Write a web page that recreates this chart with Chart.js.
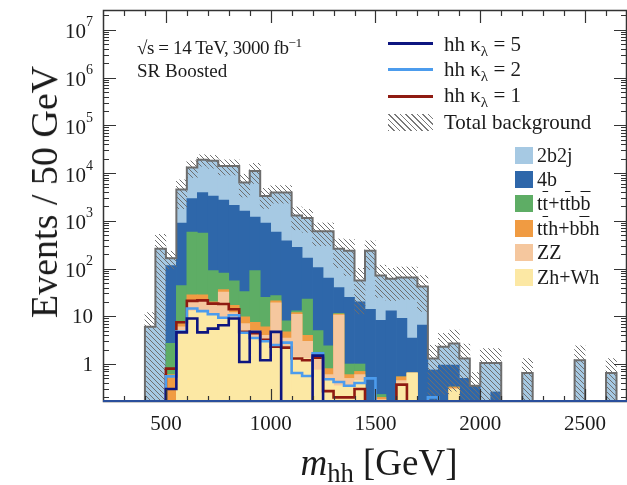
<!DOCTYPE html>
<html>
<head>
<meta charset="utf-8">
<title>m_hh SR Boosted</title>
<script src="https://cdn.jsdelivr.net/npm/chart.js@4.4.1/dist/chart.umd.min.js"></script>
<style>
  html, body { margin: 0; padding: 0; background: #fff; }
  #plot { position: relative; width: 627px; height: 485px; overflow: hidden;
    font-family: "Liberation Serif", "Times New Roman", serif; color: #1b1b1b; }
  #plot canvas { position: absolute; left: 0; top: 0; }
  .txt { position: absolute; white-space: nowrap; line-height: 1; }
  .txt sup { font-size: 0.7em; vertical-align: 0.5em; line-height: 0; }
  .txt sub { font-size: 0.72em; vertical-align: -0.3em; line-height: 0; }
  .ol { text-decoration: overline; text-decoration-thickness: 1px; }
  .sw { position: absolute; }
</style>
</head>
<body>
<div id="plot">
  <canvas id="chart" width="627" height="485"></canvas>

  <!-- annotation -->
  <div class="txt" style="left:137px;top:38px;font-size:19px;letter-spacing:-0.4px">√s = 14 TeV, 3000 fb<sup>−1</sup></div>
  <div class="txt" style="left:137px;top:61px;font-size:19px">SR Boosted</div>

  <!-- legend: signals + total -->
  <div class="sw" style="left:388px;top:42px;width:45px;height:3px;background:#0d1580"></div>
  <div class="sw" style="left:388px;top:68px;width:45px;height:3px;background:#4c9ced"></div>
  <div class="sw" style="left:388px;top:95px;width:45px;height:3px;background:#8f1b12"></div>
  <div class="sw" style="left:388px;top:114px;width:45px;height:17px;background:repeating-linear-gradient(45deg,#7a7a7a 0 1px,transparent 1px 4px)"></div>
  <div class="txt" style="left:444px;top:34px;font-size:21px">hh κ<sub>λ</sub> = 5</div>
  <div class="txt" style="left:444px;top:59px;font-size:21px">hh κ<sub>λ</sub> = 2</div>
  <div class="txt" style="left:444px;top:85px;font-size:21px">hh κ<sub>λ</sub> = 1</div>
  <div class="txt" style="left:444px;top:112px;font-size:21px">Total background</div>

  <!-- legend: stacked backgrounds -->
  <div class="sw" style="left:515px;top:147px;width:18px;height:17px;background:#a6c9e3"></div>
  <div class="sw" style="left:515px;top:171px;width:18px;height:17px;background:#2e67aa"></div>
  <div class="sw" style="left:515px;top:195px;width:18px;height:17px;background:#5ead65"></div>
  <div class="sw" style="left:515px;top:220px;width:18px;height:17px;background:#f09b42"></div>
  <div class="sw" style="left:515px;top:244px;width:18px;height:17px;background:#f5c79e"></div>
  <div class="sw" style="left:515px;top:269px;width:18px;height:17px;background:#fce8a4"></div>
  <div class="txt" style="left:537px;top:145px;font-size:20px">2b2j</div>
  <div class="txt" style="left:537px;top:169px;font-size:20px">4b</div>
  <div class="txt" style="left:537px;top:193px;font-size:20px">t<span class="ol">t</span>+t<span class="ol">t</span>b<span class="ol">b</span></div>
  <div class="txt" style="left:537px;top:218px;font-size:20px">t<span class="ol">t</span>h+b<span class="ol">b</span>h</div>
  <div class="txt" style="left:537px;top:242px;font-size:20px">ZZ</div>
  <div class="txt" style="left:537px;top:267px;font-size:20px">Zh+Wh</div>

  <!-- axis titles -->
  <div class="txt" style="left:44px;top:192px;font-size:38px;transform:translate(-50%,-50%) rotate(-90deg)">Events / 50 GeV</div>
  <div class="txt" style="left:379px;top:462px;font-size:37px;transform:translate(-50%,-50%)"><i>m</i><sub>hh</sub> [GeV]</div>
</div>

<script>
// bin low edges, 50 GeV wide
const binLow = [400, 450, 500, 550, 600, 650, 700, 750, 800, 850,
  900, 950, 1000, 1050, 1100, 1150, 1200, 1250, 1300, 1350,
  1400, 1450, 1500, 1550, 1600, 1650, 1700, 1750, 1800, 1850,
  1900, 1950, 2000, 2050, 2100, 2150, 2200, 2250, 2300, 2350,
  2400, 2450, 2500, 2550, 2600, 2650];
const binWidth = 50;

// backgrounds (events per bin), stacked bottom -> top
const zhWh = [0, 0, 0, 4.5, 13, 12.5, 11, 9, 9.5, 5,
  3.3, 3, 2.4, 2.3, 1.4, 1.3, 0.75, 0.46, 0.35, 0.35,
  0.45, 0, 0, 0, 0.4, 0.65, 0, 0, 0, 0.3,
  0, 0, 0, 0, 0, 0, 0, 0, 0, 0,
  0, 0, 0, 0, 0, 0];
const zz = [0, 0, 0, 1.5, 7, 9.5, 6, 23, 2.5, 2,
  1.7, 1, 16.6, 1.2, 9.6, 1.7, 0.75, 0.14, 10.2, 0.15,
  0.15, 0, 0.18, 0, 0.05, 0, 0, 0, 0, 0,
  0, 0, 0, 0, 0, 0, 0, 0, 0, 0,
  0, 0, 0, 0, 0, 0];
const ttH = [0, 0, 0.6, 1, 8, 6, 3, 4, 5, 2.7,
  2.5, 2, 2, 1.2, 1, 1, 0.2, 0.2, 0.5, 0.1,
  0.1, 0, 0.02, 0, 0.09, 0, 0, 0, 0, 0.03,
  0, 0, 0, 0, 0, 0, 0, 0, 0, 0,
  0, 0, 0, 0, 0, 0];
const ttbar = [0, 0, 2.1, 37, 552, 522, 70, 44, 38, 23,
  83.5, 19, 6, 3.3, 1, 19, 3.3, 1.6, 0.5, 0.4,
  0.3, 0, 0.03, 0, 0, 0, 0, 0, 0, 0,
  0, 0, 0, 0, 0, 0, 0, 0, 0, 0,
  0, 0, 0, 0, 0, 0];
const fourB = [0, 0, 112, 856, 2320, 3350, 3210, 2620, 2045, 1567,
  1109, 875, 553, 372, 264, 142, 100, 61, 28.5, 24,
  19, 14, 8, 13, 8.5, 2.85, 6.5, 0.75, 0.95, 0.62,
  0.5, 0.35, 0, 0.26, 0, 0, 0, 0, 0, 0,
  0, 0, 0, 0, 0, 0];
const twoB2j = [6, 260, 50, 3600, 10100, 15100, 14700, 11300, 11900, 4700,
  9800, 2400, 3320, 3520, 1020, 985, 495, 537, 220, 212,
  36, 223, 63, 48, 56, 61.5, 35.5, 0.55, 1.35, 1.75,
  0.8, 0, 1.05, 0.79, 0, 0, 0.65, 0, 0, 0,
  0, 1.2, 0, 0, 0.65, 0];
// relative uncertainty on the total background
const bkgRelUnc = [1, 1, 0.4, 0.6, 0.38, 0.27, 0.3, 0.35, 0.35, 0.5,
  0.45, 0.45, 0.4, 0.4, 0.5, 0.5, 0.5, 0.5, 0.6, 0.7,
  0.8, 0.6, 0.65, 0.65, 0.65, 0.65, 0.7, 0.9, 0.9, 0.9,
  1, 0.9, 1, 1, 0, 0, 1, 0, 0, 0,
  0, 1, 0, 0, 1, 0];

// signals
const hhK5 = [0, 0, 0.3, 4.6, 9, 4.6, 5.5, 6.5, 9, 1.1,
  4.7, 1.2, 4.7, 0, 0, 0, 1.5, 0, 0, 0,
  0, 0, 0, 0, 0, 0, 0, 0, 0, 0,
  0, 0, 0, 0, 0, 0, 0, 0, 0, 0,
  0, 0, 0, 0, 0, 0];
const hhK2 = [0, 0, 0.55, 4.8, 14.5, 12.8, 11, 9.3, 10.5, 4.5,
  3.5, 3, 2.5, 2.8, 0.65, 0.56, 1.67, 0.48, 0.42, 0.35,
  0.4, 0.5, 0, 0, 0, 0, 0, 0.2, 0, 0,
  0, 0, 0, 0, 0, 0, 0, 0, 0, 0,
  0, 0, 0, 0, 0, 0];
const hhK1 = [0, 0, 0.8, 7.5, 21, 21.5, 18.4, 18, 14, 4.7,
  4.4, 3.2, 2.3, 2.2, 1.3, 1.2, 1.35, 0.27, 0.2, 0.2,
  0.3, 0, 0, 0, 0.37, 0, 0, 0, 0, 0,
  0, 0, 0, 0, 0, 0, 0, 0, 0, 0,
  0, 0, 0, 0, 0, 0];

const xTicks = [500, 1000, 1500, 2000, 2500];
const yTicks = [1, 10, 1e2, 1e3, 1e4, 1e5, 1e6, 1e7];

const X_MIN = 200, X_MAX = 2700, Y_MIN = 0.16, Y_MAX = 2.6e7;
const FLOOR = 0.02; // below the visible range, used for empty bins

// cumulative stack, bottom layer first
const layers = [
  { label: "Zh+Wh", vals: zhWh, color: "#fce8a4" },
  { label: "ZZ", vals: zz, color: "#f5c79e" },
  { label: "tth+bbh", vals: ttH, color: "#f09b42" },
  { label: "tt+ttbb", vals: ttbar, color: "#5ead65" },
  { label: "4b", vals: fourB, color: "#2e67aa" },
  { label: "2b2j", vals: twoB2j, color: "#a6c9e3" },
];
let running = binLow.map(() => 0);
layers.forEach(l => {
  running = running.map((s, i) => s + l.vals[i]);
  l.cum = running.slice();
});
const total = running;

function hatchPattern() {
  const c = document.createElement("canvas");
  c.width = 5; c.height = 5;
  const g = c.getContext("2d");
  g.strokeStyle = "#6e6e6e";
  g.lineWidth = 1;
  g.beginPath();
  g.moveTo(-1, -1); g.lineTo(6, 6);
  g.moveTo(-1, 4); g.lineTo(1, 6);
  g.moveTo(4, -1); g.lineTo(6, 1);
  g.stroke();
  return g.createPattern(c, "repeat");
}

function barData(vals) {
  return binLow.map((lo, i) => ({ x: lo + binWidth / 2, y: vals[i] > 0 ? [FLOOR, vals[i]] : null }));
}

function stepData(vals) {
  const pts = [{ x: binLow[0] - binWidth, y: FLOOR }];
  binLow.forEach((lo, i) => pts.push({ x: lo, y: vals[i] > 0 ? vals[i] : FLOOR }));
  pts.push({ x: binLow[binLow.length - 1] + binWidth, y: FLOOR });
  return pts;
}

const datasets = [];
// higher order is drawn first: the tallest cumulative layer goes at the back
layers.forEach((l, k) => {
  datasets.push({
    type: "bar", label: l.label, data: barData(l.cum),
    backgroundColor: l.color, borderWidth: 0,
    barPercentage: 1, categoryPercentage: 1, grouped: false,
    order: 25 + k,
  });
});

// uncertainty band on total background
datasets.push({
  type: "bar", label: "Total background",
  data: binLow.map((lo, i) => {
    if (total[i] <= 0) return { x: lo + binWidth / 2, y: null };
    const u = bkgRelUnc[i];
    const low = u >= 1 ? FLOOR : total[i] * (1 - u);
    return { x: lo + binWidth / 2, y: [low, total[i] * (1 + u)] };
  }),
  backgroundColor: hatchPattern(), borderWidth: 0,
  barPercentage: 1, categoryPercentage: 1, grouped: false, order: 20,
});

const stepStyle = { type: "line", pointRadius: 0, fill: false, stepped: true,
  borderCapStyle: "butt", borderJoinStyle: "miter", tension: 0 };
datasets.push({ ...stepStyle, label: "total", data: stepData(total), borderColor: "#6d6d6d", borderWidth: 2, order: 15 });
datasets.push({ ...stepStyle, label: "hh k=1", data: stepData(hhK1), borderColor: "#8f1b12", borderWidth: 2.6, order: 12 });
datasets.push({ ...stepStyle, label: "hh k=2", data: stepData(hhK2), borderColor: "#4c9ced", borderWidth: 2.6, order: 11 });
datasets.push({ ...stepStyle, label: "hh k=5", data: stepData(hhK5), borderColor: "#0d1580", borderWidth: 2.6, order: 10 });

// frame, inward ticks and tick labels
const framePlugin = {
  id: "frame",
  afterDatasetsDraw(chart) {
    const { ctx, chartArea: a, scales: { x, y } } = chart;
    ctx.save();
    ctx.strokeStyle = "#333";
    ctx.lineWidth = 1.2;
    ctx.beginPath();
    for (let v = X_MIN + 100; v < X_MAX; v += 100) {
      const px = Math.round(x.getPixelForValue(v)) + 0.5;
      const len = v % 500 === 0 ? 13 : 6;
      ctx.moveTo(px, a.bottom); ctx.lineTo(px, a.bottom - len);
      ctx.moveTo(px, a.top); ctx.lineTo(px, a.top + len);
    }
    for (let e = -1; e <= 7; e++) {
      for (let m = 1; m <= 9; m++) {
        const v = m * Math.pow(10, e);
        if (v < Y_MIN || v > Y_MAX) continue;
        const py = Math.round(y.getPixelForValue(v)) + 0.5;
        const len = m === 1 ? 13 : 6;
        ctx.moveTo(a.left, py); ctx.lineTo(a.left + len, py);
        ctx.moveTo(a.right, py); ctx.lineTo(a.right - len, py);
      }
    }
    ctx.stroke();
    ctx.lineWidth = 1.5;
    ctx.strokeRect(a.left + 0.5, a.top + 0.5, a.right - a.left - 1, a.bottom - a.top - 1);
    ctx.strokeStyle = "#2a4f9c";
    ctx.lineWidth = 2;
    ctx.beginPath();
    ctx.moveTo(a.left, a.bottom - 1); ctx.lineTo(a.right, a.bottom - 1);
    ctx.stroke();

    ctx.fillStyle = "#1b1b1b";
    ctx.font = "21px 'Liberation Serif'";
    ctx.textAlign = "center";
    ctx.textBaseline = "middle";
    xTicks.forEach(v => ctx.fillText(String(v), x.getPixelForValue(v), 424));

    const right = 93;
    yTicks.forEach(v => {
      const py = y.getPixelForValue(v);
      const exp = Math.round(Math.log10(v));
      if (exp <= 1) {
        ctx.font = "21px 'Liberation Serif'";
        ctx.textAlign = "right";
        ctx.fillText(String(v), right, py + 1);
      } else {
        ctx.font = "14px 'Liberation Serif'";
        const w = ctx.measureText(String(exp)).width;
        ctx.textAlign = "left";
        ctx.fillText(String(exp), right - w, py - 7);
        ctx.font = "21px 'Liberation Serif'";
        ctx.textAlign = "right";
        ctx.fillText("10", right - w, py + 3);
      }
    });
    ctx.restore();
  }
};

new Chart(document.getElementById("chart"), {
  data: { datasets },
  options: {
    responsive: false,
    animation: false,
    devicePixelRatio: 1,
    layout: { padding: { left: 103, right: 0, top: 10, bottom: 83 } },
    plugins: { legend: { display: false }, tooltip: { enabled: false } },
    scales: {
      x: { type: "linear", min: X_MIN, max: X_MAX, offset: false, display: false, ticks: { stepSize: 100 } },
      y: { type: "logarithmic", min: Y_MIN, max: Y_MAX, display: false },
    },
  },
  plugins: [framePlugin],
});
</script>
</body>
</html>
